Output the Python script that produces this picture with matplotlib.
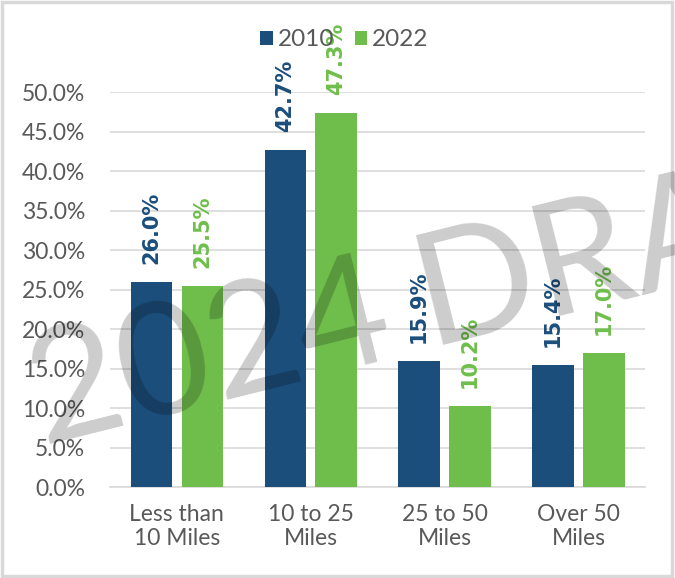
import numpy as np
import matplotlib
matplotlib.use("Agg")
import matplotlib.pyplot as plt
from matplotlib.patches import Rectangle

# data
categories = ["Less than\n10 Miles", "10 to 25\nMiles", "25 to 50\nMiles", "Over 50\nMiles"]
share_2010 = [26.0, 42.7, 15.9, 15.4]
share_2022 = [25.5, 47.3, 10.2, 17.0]
y_ticks = [0, 5, 10, 15, 20, 25, 30, 35, 40, 45, 50]

blue = "#1B4E7B"
green = "#6FBE4B"
grey_text = "#595959"
grid_col = "#D9D9D9"

plt.rcParams["font.family"] = ["Lato", "DejaVu Sans"]

fig = plt.figure(figsize=(6.75, 5.78), dpi=100)
ax = fig.add_axes([0.163, 0.1574, 0.793, 0.6834])

x = np.arange(len(categories))
w = 0.31
off = 0.19

b1 = ax.bar(x - off, share_2010, w, color=blue, label="2010", zorder=3)
b2 = ax.bar(x + off, share_2022, w, color=green, label="2022", zorder=3)

# rotated value labels above each bar
for bars, vals, col in [(b1, share_2010, blue), (b2, share_2022, green)]:
    for rect, v in zip(bars, vals):
        ax.annotate(f"{v:.1f}%",
                    xy=(rect.get_x() + rect.get_width() / 2, v),
                    xytext=(0, 13), textcoords="offset points",
                    rotation=90, ha="center", va="bottom",
                    fontsize=15, fontweight="bold", color=col,
                    family="DejaVu Sans",
                    annotation_clip=False, zorder=4)

ax.set_xlim(-0.5, 3.5)
ax.set_ylim(0, 50)
ax.set_yticks(y_ticks)
ax.set_yticklabels([f"{t:.1f}%" for t in y_ticks])
ax.set_xticks(x)
ax.set_xticklabels(categories, linespacing=1.2)

ax.yaxis.grid(True, color=grid_col, linewidth=1.2, zorder=0)
ax.set_axisbelow(True)
for s in ["top", "right", "left"]:
    ax.spines[s].set_visible(False)
ax.spines["bottom"].set_color(grid_col)
ax.spines["bottom"].set_linewidth(1.2)

ax.tick_params(axis="both", length=0, labelsize=16.5, labelcolor=grey_text)
ax.tick_params(axis="y", pad=18)
ax.tick_params(axis="x", pad=12)

fig.legend(handles=[b1, b2], loc="center", bbox_to_anchor=(0.51, 0.931),
           ncol=2, frameon=False, fontsize=17.5, labelcolor=grey_text,
           handlelength=0.53, handleheight=0.53, handletextpad=0.2,
           columnspacing=0.85)

# draft watermark, the two words set along one slanted baseline
wm = dict(fontsize=114, color="black", alpha=0.2, rotation=14,
          rotation_mode="anchor", ha="left", va="baseline", zorder=10)
fig.text(0.062, 0.232, "2024", **wm)
fig.text(0.635, 0.404, "DRAFT", **wm)

# chart border
fig.patches.append(Rectangle((0.003, 0.004), 0.992, 0.992, transform=fig.transFigure,
                             fill=False, edgecolor=grid_col, linewidth=2.5))

fig.savefig("out.png", dpi=100)
